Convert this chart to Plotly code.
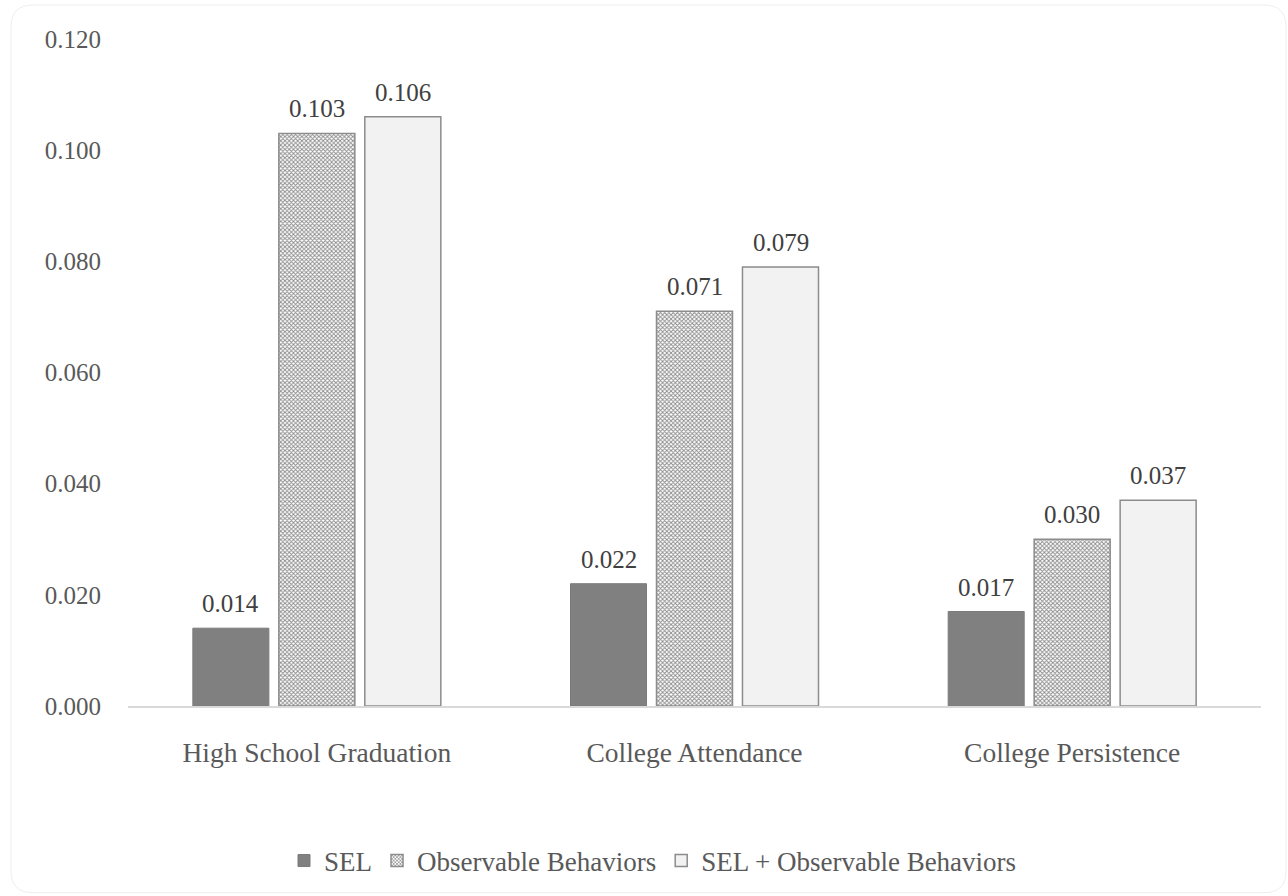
import plotly.graph_objects as go

categories = ["High School Graduation", "College Attendance", "College Persistence"]
sel = [0.014, 0.022, 0.017]
observable = [0.103, 0.071, 0.030]
sel_plus_obs = [0.106, 0.079, 0.037]
series_names = ["SEL", "Observable Behaviors", "SEL + Observable Behaviors"]
y_ticks = [0.0, 0.02, 0.04, 0.06, 0.08, 0.10, 0.12]

W, H = 1288, 896
L, R, T, B = 128, 27, 39, 189
PW, PH = W - L - R, H - T - B

FONT = "Liberation Serif, Tinos, Times New Roman, DejaVu Serif, serif"
TXT = "#595959"

fig = go.Figure()
fig.add_trace(go.Bar(
    x=categories, y=sel, name=series_names[0],
    marker=dict(color="#808080", line=dict(color="#7a7a7a", width=1)),
))
fig.add_trace(go.Bar(
    x=categories, y=observable, name=series_names[1],
    marker=dict(color="#ffffff", line=dict(color="#8c8c8c", width=1.5),
                pattern=dict(shape="x", size=3, solidity=0.5, fgcolor="#8a8a8a",
                             bgcolor="#ffffff", fillmode="replace")),
))
fig.add_trace(go.Bar(
    x=categories, y=sel_plus_obs, name=series_names[2],
    marker=dict(color="#f2f2f2", line=dict(color="#8c8c8c", width=1.5)),
))

# value labels above bars
slot = 86
for i, vals in enumerate([sel, observable, sel_plus_obs]):
    for c, v in zip(categories, vals):
        fig.add_annotation(x=c, y=v, text=f"{v:.3f}", showarrow=False,
                           xshift=(i - 1) * slot, yshift=9, yanchor="bottom",
                           font=dict(family=FONT, size=25, color="#404040"))

def px2paper(px, py):
    return (px - L) / PW, (H - B - py) / PH

x0, y0, x1, y1, rr = 11, 5, 1286, 894, 22
def P(px, py):
    a, b = px2paper(px, py)
    return f"{a:.5f},{b:.5f}"
path = (f"M {P(x0+rr, y0)} L {P(x1-rr, y0)} Q {P(x1, y0)} {P(x1, y0+rr)} "
        f"L {P(x1, y1-rr)} Q {P(x1, y1)} {P(x1-rr, y1)} L {P(x0+rr, y1)} "
        f"Q {P(x0, y1)} {P(x0, y1-rr)} L {P(x0, y0+rr)} Q {P(x0, y0)} {P(x0+rr, y0)} Z")
fig.add_shape(type="path", path=path, xref="paper", yref="paper",
              line=dict(color="#eeeeee", width=1), layer="below")

lx, ly = px2paper(653, 861)
fig.update_layout(
    width=W, height=H,
    margin=dict(l=L, r=R, t=T, b=B),
    paper_bgcolor="white", plot_bgcolor="white",
    barmode="group", bargap=0.317, bargroupgap=0.116,
    font=dict(family=FONT, size=25, color=TXT),
    showlegend=True,
    legend=dict(orientation="h", x=lx, y=ly, xanchor="center", yanchor="middle",
                font=dict(family=FONT, size=27, color=TXT), itemwidth=30,
                tracegroupgap=0),
    xaxis=dict(showgrid=False, showline=True, linecolor="#d9d9d9", linewidth=1.5,
               ticks="", tickfont=dict(family=FONT, size=27.5, color=TXT),
               ticklabelstandoff=21),
    yaxis=dict(range=[0, 0.12], tickvals=y_ticks, tickformat=".3f",
               showgrid=False, zeroline=False, showline=False, ticks="",
               tickfont=dict(family=FONT, size=25, color=TXT), ticklabelstandoff=26),
)

fig.write_html("out.html")
